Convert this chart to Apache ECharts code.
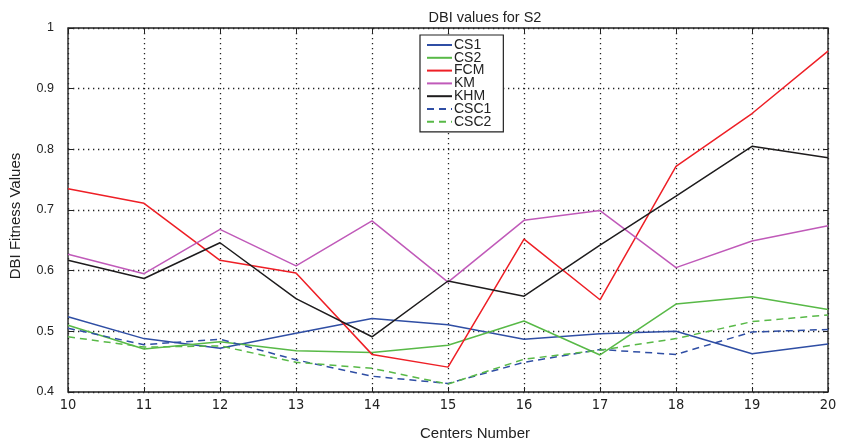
<!DOCTYPE html>
<html>
<head>
<meta charset="utf-8">
<script src="https://cdn.jsdelivr.net/npm/echarts@6/dist/echarts.min.js"></script>
<style>
  html, body { margin: 0; padding: 0; background: #fff; }
  #chart { width: 843px; height: 446px; }
</style>
</head>
<body>
<div id="chart"></div>
<script>
// Number of cluster centers on the x axis
const centers = [10, 11, 12, 13, 14, 15, 16, 17, 18, 19, 20];

// DBI fitness value of each algorithm per number of centers
const cs1  = [0.524, 0.488, 0.472, 0.497, 0.521, 0.511, 0.487, 0.496, 0.500, 0.463, 0.479];
const cs2  = [0.510, 0.471, 0.483, 0.468, 0.465, 0.477, 0.517, 0.461, 0.545, 0.557, 0.536];
const fcm  = [0.735, 0.711, 0.617, 0.596, 0.462, 0.441, 0.652, 0.552, 0.772, 0.859, 0.962];
const km   = [0.627, 0.595, 0.668, 0.608, 0.682, 0.581, 0.683, 0.699, 0.605, 0.649, 0.674];
const khm  = [0.617, 0.587, 0.646, 0.554, 0.491, 0.583, 0.558, 0.642, 0.723, 0.805, 0.786];
const csc1 = [0.505, 0.478, 0.487, 0.453, 0.426, 0.414, 0.449, 0.470, 0.462, 0.499, 0.503];
const csc2 = [0.491, 0.474, 0.476, 0.449, 0.439, 0.413, 0.454, 0.469, 0.488, 0.516, 0.527];

// Axis tick labels
const xTicks = ['10', '11', '12', '13', '14', '15', '16', '17', '18', '19', '20'];
const yTicks = ['0.4', '0.5', '0.6', '0.7', '0.8', '0.9', '1'];

const seriesDefs = [
  { name: 'CS1',  values: cs1,  color: '#2f4ea4', dash: 'solid' },
  { name: 'CS2',  values: cs2,  color: '#58b947', dash: 'solid' },
  { name: 'FCM',  values: fcm,  color: '#ee1f26', dash: 'solid' },
  { name: 'KM',   values: km,   color: '#c05ab9', dash: 'solid' },
  { name: 'KHM',  values: khm,  color: '#1e1c1d', dash: 'solid' },
  { name: 'CSC1', values: csc1, color: '#2f4ea4', dash: [7, 5] },
  { name: 'CSC2', values: csc2, color: '#58b947', dash: [7, 5] }
];

const SANS = "'Liberation Sans', Arial, Helvetica, sans-serif";
const NARROW = "'DejaVu Sans Condensed', 'Liberation Sans', Arial, sans-serif";

const dotted = { color: '#222', width: 1.3, type: [1.3, 3.7] };
const tickStyle = { show: true, inside: true, length: 5, lineStyle: { color: '#222', width: 1 } };

const chart = echarts.init(document.getElementById('chart'), null, { renderer: 'canvas' });

chart.setOption({
  backgroundColor: '#ffffff',
  animation: false,
  title: {
    text: 'DBI values for S2',
    left: 480,
    top: 5,
    textAlign: 'center',
    textStyle: { fontFamily: SANS, fontSize: 14.5, fontWeight: 'normal', color: '#222' }
  },
  legend: {
    orient: 'vertical',
    left: 420,
    top: 35,
    padding: [3, 12, 3, 6],
    itemGap: -1.2,
    itemWidth: 25,
    itemHeight: 8,
    borderColor: '#222',
    borderWidth: 1.2,
    backgroundColor: '#ffffff',
    itemStyle: { opacity: 0 },
    textStyle: { fontFamily: SANS, fontSize: 14, color: '#222', padding: [0, 0, 0, -3] },
    data: seriesDefs.map(d => d.name)
  },
  grid: {
    left: 65, right: 15, top: 28, bottom: 51,
    show: true,
    borderColor: '#222',
    borderWidth: 1.4,
    backgroundColor: 'transparent'
  },
  xAxis: [
    {
      type: 'value',
      min: 10, max: 20, interval: 1,
      name: 'Centers Number',
      nameLocation: 'middle',
      nameGap: 34,
      nameTextStyle: { fontFamily: SANS, fontSize: 15, color: '#222', padding: [0, 0, 0, 54] },
      axisLine: { show: false },
      axisTick: tickStyle,
      axisLabel: {
        margin: 6,
        fontFamily: NARROW, fontSize: 14.5, color: '#222',
        formatter: v => xTicks[Math.round(v - centers[0])]
      },
      splitLine: { show: true, lineStyle: dotted }
    },
    {
      type: 'value', position: 'top',
      min: 10, max: 20, interval: 1,
      axisLine: { show: false },
      axisTick: tickStyle,
      axisLabel: { show: false },
      splitLine: { show: false }
    }
  ],
  yAxis: [
    {
      type: 'value',
      min: 0.4, max: 1, interval: 0.1,
      name: 'DBI Fitness Values',
      nameLocation: 'middle',
      nameGap: 45,
      nameRotate: 90,
      nameTextStyle: { fontFamily: SANS, fontSize: 15, color: '#222', padding: [0, 0, 0, -12] },
      axisLine: { show: false },
      axisTick: tickStyle,
      axisLabel: {
        margin: 14,
        fontFamily: SANS, fontSize: 12.5, color: '#222',
        formatter: v => yTicks[Math.round((v - 0.4) * 10)]
      },
      splitLine: { show: true, lineStyle: dotted }
    },
    {
      type: 'value', position: 'right',
      min: 0.4, max: 1, interval: 0.1,
      axisLine: { show: false },
      axisTick: tickStyle,
      axisLabel: { show: false },
      splitLine: { show: false }
    }
  ],
  series: seriesDefs.map(d => ({
    name: d.name,
    type: 'line',
    xAxisIndex: 0,
    yAxisIndex: 0,
    symbol: 'none',
    showSymbol: false,
    color: d.color,
    lineStyle: { color: d.color, width: 1.5, type: d.dash },
    data: centers.map((c, i) => [c, d.values[i]])
  }))
});
</script>
</body>
</html>
